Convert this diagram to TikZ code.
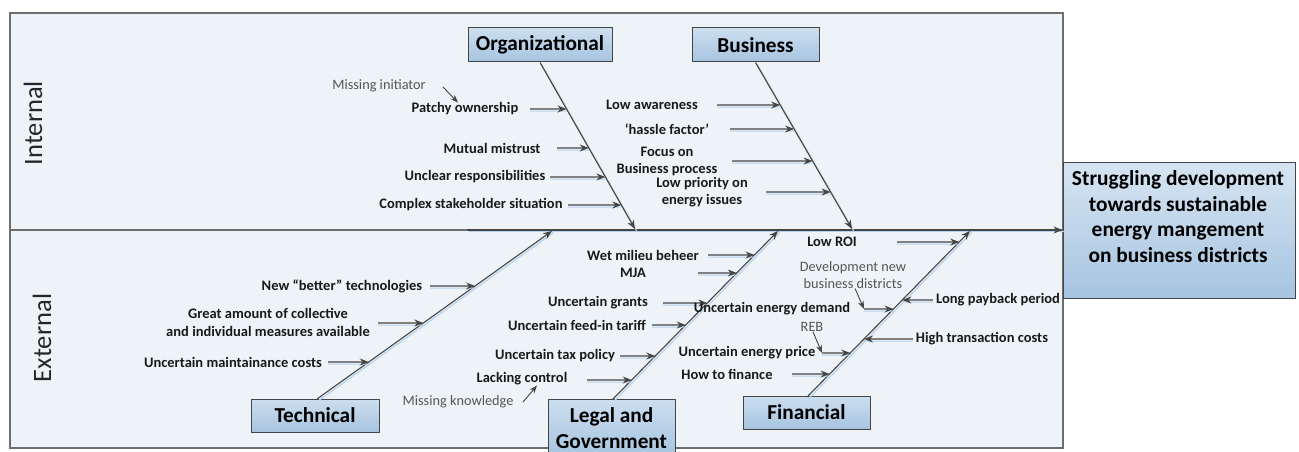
\documentclass[tikz,border=0pt]{standalone}
\usepackage{fontspec}
\setmainfont{Carlito}
\usetikzlibrary{arrows.meta}
\definecolor{panelbg}{HTML}{EEF3F8}
\definecolor{boxtop}{HTML}{CCDEEF}
\definecolor{boxbot}{HTML}{A6C4E0}
\definecolor{ln}{HTML}{454545}
\definecolor{panelln}{HTML}{6E6E6E}
\definecolor{shade}{HTML}{B6D2EC}
\definecolor{graytxt}{HTML}{555555}
\tikzset{
  panelbox/.style={draw=panelln, line width=1.1pt, fill=panelbg},
  catbox/.style={draw=ln, line width=1pt, top color=boxtop, bottom color=boxbot,
     font=\fontsize{21.3}{26}\selectfont\bfseries, align=center, inner sep=0pt},
  lbl/.style={font=\fontsize{14.5}{17.5}\selectfont\bfseries, align=center, inner sep=0pt, text=black!90},
  glbl/.style={font=\fontsize{14.3}{16.5}\selectfont, align=center, inner sep=0pt, text=graytxt},
  side/.style={font=\fontsize{26.5}{30}\selectfont, rotate=90, inner sep=0pt, text=black!85},
  bone/.style={draw=ln, line width=1.1pt, -{Stealth[length=9pt,width=7pt]},
     preaction={draw=shade, line width=1.2pt, -, transform canvas={shift={(1.6,1.6)}}}},
  sub/.style={draw=ln, line width=1.1pt, -{Stealth[length=9pt,width=7pt]},
     preaction={draw=shade, line width=1pt, -, transform canvas={shift={(0,2.2)}}}},
  gsub/.style={draw=ln, line width=0.9pt, -{Stealth[length=8pt,width=6pt]}}
}
\begin{document}
\begin{tikzpicture}[x=1pt,y=-1pt]
\useasboundingbox (0,0) rectangle (1299,452);
% panels
\draw[panelbox] (10,13) rectangle (1063,230);
\draw[panelbox] (10,230) rectangle (1063,448);
\node[side] (internal) at (33,123) {Internal};
\node[side] (external) at (42,338) {External};

% effect
\node[draw=ln, line width=1pt, top color=boxtop!80!white, bottom color=boxbot, minimum width=232pt, minimum height=136pt, inner sep=0pt] (effect) at (1179,230) {};
\node[font=\fontsize{21.4}{25.5}\selectfont\bfseries, align=center, inner sep=0pt] (efftxt) at (1178,216.5)
  {Struggling development\\towards sustainable\\energy mangement\\on business districts};

% category boxes
\node[catbox, minimum width=144pt, minimum height=34pt] (org) at (540,45) {Organizational};
\node[catbox, minimum width=127pt, minimum height=34pt] (bus) at (755.5,45) {Business};
\node[catbox, minimum width=128pt, minimum height=33pt] (tech) at (315,415.5) {Technical};
\node[catbox, minimum width=127pt, minimum height=58pt] (leg) at (611.5,428) {Legal and\\Government};
\node[catbox, minimum width=127pt, minimum height=33pt] (fin) at (806.5,412.5) {Financial};

% spine
\coordinate (spineS) at (467,230);
\draw[bone] (spineS) -- (effect.west);

% bones
\coordinate (orgE) at (635,229);
\coordinate (busE) at (852,229);
\coordinate (techE) at (552,231);
\coordinate (legE) at (778,231);
\coordinate (finE) at (970,231);
\coordinate (techS) at (317,399);
\coordinate (legS) at (613,399);
\coordinate (finS) at (808,396);
\draw[bone] (org.south) -- (orgE);
\draw[bone] (bus.south) -- (busE);
\draw[bone] (techS) -- (techE);
\draw[bone] (legS) -- (legE);
\draw[bone] (finS) -- (finE);

% Organizational causes
\node[glbl] (missinit) at (379,86) {Missing initiator};
\node[lbl] (patchy) at (465,109) {Patchy ownership};
\node[lbl] (mutual) at (492,148) {Mutual mistrust};
\node[lbl] (unclear) at (475,177) {Unclear responsibilities};
\node[lbl] (complex) at (471,205) {Complex stakeholder situation};
\draw[gsub] (443,87) -- (patchy.north -| 458,0);
\draw[sub] (530,109) -- (intersection of org.south--orgE and 0,109--1,109);
\draw[sub] (557,148) -- (intersection of org.south--orgE and 0,148--1,148);
\draw[sub] (550,177) -- (intersection of org.south--orgE and 0,177--1,177);
\draw[sub] (568,205) -- (intersection of org.south--orgE and 0,205--1,205);

% Business causes
\node[lbl] (lowaw) at (652,105) {Low awareness};
\node[lbl] (hassle) at (667,129) {‘hassle factor’};
\node[lbl] (focus) at (667,161.5) {Focus on\\Business process};
\node[lbl] (lowpri) at (702,192) {Low priority on\\energy issues};
\draw[sub] (717,105) -- (intersection of bus.south--busE and 0,105--1,105);
\draw[sub] (730,129) -- (intersection of bus.south--busE and 0,129--1,129);
\draw[sub] (732,161) -- (intersection of bus.south--busE and 0,161--1,161);
\draw[sub] (766,192) -- (intersection of bus.south--busE and 0,192--1,192);

% Technical causes
\node[lbl] (newtech) at (342,286) {New “better” technologies};
\node[lbl] (great) at (268,322.5) {Great amount of collective\\and individual measures available};
\node[lbl] (maint) at (233,362) {Uncertain maintainance costs};
\draw[sub] (430,286) -- (intersection of techS--techE and 0,286--1,286);
\draw[sub] (378,323) -- (intersection of techS--techE and 0,323--1,323);
\draw[sub] (328,362) -- (intersection of techS--techE and 0,362--1,362);

% Legal causes
\node[lbl] (wet) at (643,255) {Wet milieu beheer};
\node[lbl] (mja) at (633,273) {MJA};
\node[lbl] (grants) at (598,303) {Uncertain grants};
\node[lbl] (feed) at (577,325) {Uncertain feed-in tariff};
\node[lbl] (tax) at (555,356) {Uncertain tax policy};
\node[lbl] (lack) at (522,379) {Lacking control};
\node[glbl] (missknow) at (458,402) {Missing knowledge};
\draw[sub] (708,255) -- (intersection of legS--legE and 0,255--1,255);
\draw[sub] (698,273) -- (intersection of legS--legE and 0,273--1,273);
\draw[sub] (663,303) -- (intersection of legS--legE and 0,303--1,303);
\draw[sub] (652,325) -- (intersection of legS--legE and 0,325--1,325);
\draw[sub] (620,356) -- (intersection of legS--legE and 0,356--1,356);
\draw[sub] (587,380) -- (intersection of legS--legE and 0,380--1,380);
\draw[gsub] (523,402) -- (lack.south -| 537,0);

% Financial causes
\node[lbl] (roi) at (832,242) {Low ROI};
\node[glbl] (devnew) at (853,275) {Development new\\business districts};
\node[lbl] (demand) at (772,309) {Uncertain energy demand};
\node[lbl] (payback) at (998,300) {Long payback period};
\node[glbl] (reb) at (812,327) {REB};
\node[lbl] (price) at (747,353) {Uncertain energy price};
\node[lbl] (hightc) at (982,339) {High transaction costs};
\node[lbl] (howfin) at (727,374) {How to finance};
\coordinate (demandA) at (864,309);
\coordinate (priceA) at (822,353);
\draw[sub] (897,242) -- (intersection of finS--finE and 0,242--1,242);
\draw[gsub] (devnew.south -| 855,0) -- (demandA);
\draw[sub] (demandA) -- (intersection of finS--finE and 0,309--1,309);
\draw[sub] (payback.west) ++(-3,0) coordinate (pbA) -- (intersection of finS--finE and 0,300--1,300);
\draw[gsub] (reb.south -| 813,0) -- (priceA);
\draw[sub] (priceA) -- (intersection of finS--finE and 0,353--1,353);
\draw[sub] (hightc.west) ++(-3,0) coordinate (htA) -- (intersection of finS--finE and 0,339--1,339);
\draw[sub] (792,374) -- (intersection of finS--finE and 0,374--1,374);
\end{tikzpicture}
\end{document}
